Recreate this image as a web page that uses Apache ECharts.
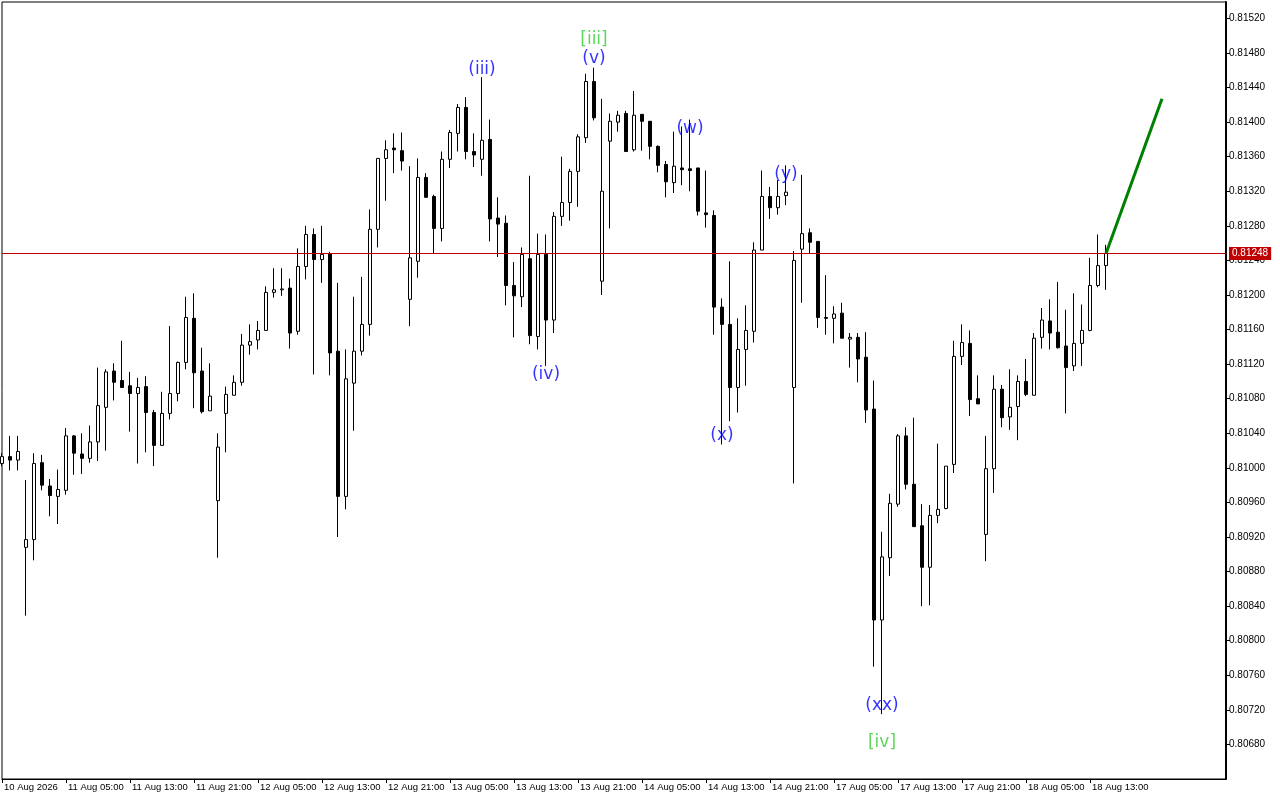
<!DOCTYPE html>
<html>
<head>
<meta charset="utf-8">
<title>H1 candles</title>
<script src="https://cdn.jsdelivr.net/npm/echarts@6/dist/echarts.min.js"></script>
<style>
  html, body { margin: 0; padding: 0; background: #fff; }
  #chart { width: 1280px; height: 800px; }
</style>
</head>
<body>
<div id="chart"></div>
<script>
// trading hours shown (weekend skipped)
const sessions = [
  ['10 Aug', 21, 23], ['11 Aug', 0, 23], ['12 Aug', 0, 23], ['13 Aug', 0, 23],
  ['14 Aug', 0, 23], ['17 Aug', 0, 23], ['18 Aug', 0, 15]
];
const tickLabels = [
  '10 Aug 2026', '11 Aug 05:00', '11 Aug 13:00', '11 Aug 21:00', '12 Aug 05:00', '12 Aug 13:00',
  '12 Aug 21:00', '13 Aug 05:00', '13 Aug 13:00', '13 Aug 21:00', '14 Aug 05:00', '14 Aug 13:00',
  '14 Aug 21:00', '17 Aug 05:00', '17 Aug 13:00', '17 Aug 21:00', '18 Aug 05:00', '18 Aug 13:00'
];

const opens = [
  0.81005,0.81013,0.81009,0.80908,0.80917,0.81006,0.80979,0.80967,0.80974,0.81037,
  0.81016,0.81011,0.81030,0.81070,0.81112,0.81101,0.81095,0.81086,0.81094,0.81064,
  0.81026,0.81063,0.81086,0.81122,0.81173,0.81112,0.81066,0.80962,0.81063,0.81084,
  0.81099,0.81142,0.81148,0.81159,0.81203,0.81206,0.81208,0.81158,0.81233,0.81270,
  0.81241,0.81248,0.81135,0.80967,0.81098,0.81135,0.81166,0.81276,0.81358,0.81370,
  0.81367,0.81195,0.81239,0.81336,0.81314,0.81277,0.81357,0.81387,0.81417,0.81366,
  0.81357,0.81380,0.81289,0.81283,0.81211,0.81198,0.81242,0.81152,0.81247,0.81171,
  0.81291,0.81307,0.81343,0.81382,0.81447,0.81216,0.81378,0.81400,0.81410,0.81368,
  0.81409,0.81401,0.81372,0.81351,0.81330,0.81347,0.81346,0.81347,0.81295,0.81292,
  0.81186,0.81166,0.81093,0.81137,0.81158,0.81252,0.81314,0.81301,0.81315,0.81093,
  0.81253,0.81272,0.81262,0.81174,0.81173,0.81179,0.81149,0.81151,0.81128,0.81068,
  0.80824,0.80896,0.80958,0.81037,0.80981,0.80933,0.80885,0.80945,0.80953,0.81004,
  0.81129,0.81144,0.81080,0.80923,0.80999,0.81091,0.81059,0.81071,0.81100,0.81084,
  0.81151,0.81170,0.81157,0.81141,0.81118,0.81144,0.81159,0.81211,0.81234
];
const closes = [
  0.81013,0.81009,0.81019,0.80917,0.81005,0.80980,0.80968,0.80975,0.81037,0.81017,
  0.81011,0.81030,0.81072,0.81111,0.81099,0.81093,0.81086,0.81093,0.81064,0.81026,
  0.81063,0.81086,0.81122,0.81174,0.81110,0.81065,0.81083,0.81024,0.81085,0.81099,
  0.81142,0.81146,0.81159,0.81203,0.81206,0.81207,0.81156,0.81233,0.81270,0.81241,
  0.81247,0.81133,0.80967,0.81103,0.81135,0.81166,0.81276,0.81358,0.81368,0.81368,
  0.81355,0.81243,0.81336,0.81313,0.81277,0.81357,0.81388,0.81417,0.81366,0.81362,
  0.81379,0.81288,0.81282,0.81211,0.81199,0.81247,0.81153,0.81247,0.81171,0.81291,
  0.81307,0.81343,0.81383,0.81447,0.81405,0.81320,0.81401,0.81408,0.81366,0.81408,
  0.81401,0.81372,0.81350,0.81331,0.81349,0.81345,0.81344,0.81297,0.81293,0.81186,
  0.81166,0.81093,0.81137,0.81159,0.81252,0.81314,0.81301,0.81314,0.81319,0.81240,
  0.81271,0.81261,0.81174,0.81173,0.81178,0.81150,0.81151,0.81126,0.81067,0.80824,
  0.80897,0.80959,0.81037,0.80981,0.80932,0.80885,0.80945,0.80952,0.81002,0.81129,
  0.81145,0.81079,0.81074,0.80999,0.81091,0.81058,0.81070,0.81100,0.81085,0.81150,
  0.81171,0.81156,0.81139,0.81116,0.81144,0.81159,0.81211,0.81234,0.81248
];
const lows = [
  0.81002,0.80997,0.80997,0.80829,0.80893,0.80974,0.80944,0.80935,0.80969,0.80992,
  0.80993,0.81006,0.81008,0.81020,0.81078,0.81093,0.81042,0.81005,0.81018,0.81002,
  0.81026,0.81056,0.81077,0.81114,0.81069,0.81063,0.81066,0.80896,0.81018,0.81084,
  0.81095,0.81131,0.81137,0.81159,0.81197,0.81199,0.81138,0.81154,0.81218,0.81108,
  0.81214,0.81107,0.80920,0.80952,0.81043,0.81130,0.81153,0.81255,0.81309,0.81341,
  0.81344,0.81164,0.81220,0.81313,0.81248,0.81262,0.81347,0.81366,0.81357,0.81348,
  0.81338,0.81262,0.81244,0.81188,0.81151,0.81186,0.81143,0.81137,0.81118,0.81156,
  0.81280,0.81286,0.81302,0.81376,0.81402,0.81200,0.81277,0.81389,0.81366,0.81366,
  0.81367,0.81357,0.81342,0.81313,0.81318,0.81327,0.81320,0.81292,0.81278,0.81154,
  0.81027,0.81054,0.81064,0.81095,0.81145,0.81252,0.81288,0.81293,0.81304,0.80982,
  0.81191,0.81248,0.81162,0.81154,0.81144,0.81150,0.81116,0.81099,0.81052,0.80770,
  0.80715,0.80875,0.80955,0.80975,0.80932,0.80840,0.80841,0.80936,0.80952,0.80994,
  0.81119,0.81060,0.81074,0.80892,0.80971,0.81047,0.81044,0.81032,0.81083,0.81084,
  0.81138,0.81137,0.81138,0.81063,0.81112,0.81118,0.81158,0.81209,0.81206
];
const highs = [
  0.81017,0.81037,0.81037,0.80986,0.81017,0.81015,0.80987,0.80998,0.81046,0.81038,
  0.81040,0.81049,0.81116,0.81114,0.81121,0.81147,0.81111,0.81104,0.81106,0.81067,
  0.81088,0.81164,0.81123,0.81198,0.81202,0.81139,0.81121,0.81040,0.81094,0.81107,
  0.81155,0.81166,0.81170,0.81210,0.81231,0.81231,0.81219,0.81254,0.81280,0.81277,
  0.81280,0.81250,0.81214,0.81137,0.81198,0.81221,0.81299,0.81358,0.81379,0.81387,
  0.81388,0.81349,0.81358,0.81341,0.81316,0.81366,0.81391,0.81421,0.81429,0.81387,
  0.81452,0.81403,0.81313,0.81292,0.81238,0.81255,0.81338,0.81271,0.81270,0.81296,
  0.81360,0.81346,0.81386,0.81456,0.81463,0.81427,0.81410,0.81413,0.81413,0.81436,
  0.81409,0.81401,0.81373,0.81355,0.81389,0.81395,0.81403,0.81347,0.81344,0.81298,
  0.81196,0.81239,0.81173,0.81188,0.81261,0.81344,0.81325,0.81333,0.81350,0.81251,
  0.81339,0.81277,0.81262,0.81223,0.81187,0.81191,0.81156,0.81156,0.81157,0.81101,
  0.80926,0.80970,0.81039,0.81047,0.81058,0.80958,0.80957,0.81028,0.81002,0.81147,
  0.81166,0.81159,0.81107,0.81037,0.81107,0.81096,0.81114,0.81107,0.81126,0.81156,
  0.81185,0.81195,0.81215,0.81183,0.81202,0.81189,0.81243,0.81270,0.81258
];

// wave marks: text, bar index, price
const waveText = ['(iii)', '(iv)', '[iii]', '(v)', '(w)', '(x)', '(y)', '(xx)', '[iv]'];
const waveBar = [60, 68, 74, 74, 86, 90, 98, 110, 110];
const wavePrice = [0.81461, 0.81108, 0.81496, 0.81473, 0.81392, 0.81037, 0.81339, 0.80725, 0.80682];

// projected move
const forecastBar = [138, 145];
const forecastPrice = [0.81248, 0.81427];

const totalSlots = 154;
const categories = [];
sessions.forEach(([day, h0, h1]) => {
  for (let h = h0; h <= h1; h++) categories.push(day + ' ' + String(h).padStart(2, '0') + ':00');
});
while (categories.length < totalSlots) categories.push('');

const candles = opens.map((o, i) => [o, closes[i], lows[i], highs[i]]);
const lastClose = closes[closes.length - 1];
const showTick = idx => idx % 8 === 0 && idx / 8 < tickLabels.length;

const chart = echarts.init(document.getElementById('chart'));
chart.setOption({
  animation: false,
  backgroundColor: '#fff',
  textStyle: { fontFamily: 'Liberation Sans' },
  grid: {
    left: 2, top: 2, width: 1224, height: 777,
    show: true, borderColor: '#000', borderWidth: 1, backgroundColor: '#fff',
    outerBoundsMode: 'none'
  },
  xAxis: [{
    type: 'category',
    data: categories,
    boundaryGap: false,
    axisLine: { onZero: false, lineStyle: { color: '#000', width: 1 } },
    axisTick: { interval: showTick, length: 4, lineStyle: { color: '#000' } },
    axisLabel: {
      interval: showTick,
      formatter: (v, idx) => tickLabels[idx / 8],
      align: 'left', margin: 3, padding: [0, 0, 0, 2],
      color: '#000', fontSize: 9.5, fontFamily: 'Liberation Sans'
    },
    splitLine: { show: false }
  }, {
    type: 'value', min: 0, max: totalSlots - 1, show: false
  }],
  yAxis: {
    type: 'value',
    position: 'right',
    min: 0.8064, max: 0.81539, interval: 0.0004,
    axisLine: { show: true, onZero: false, lineStyle: { color: '#000', width: 2 } },
    axisTick: { show: true, length: 4, lineStyle: { color: '#000' } },
    axisLabel: {
      showMinLabel: false, showMaxLabel: false,
      formatter: v => v.toFixed(5),
      margin: 3, color: '#000', fontSize: 10, fontFamily: 'Liberation Sans'
    },
    splitLine: { show: false }
  },
  series: [{
    type: 'candlestick',
    data: candles,
    barWidth: 4,
    itemStyle: {
      color: '#fff', color0: '#000',
      borderColor: '#000', borderColor0: '#000', borderWidth: 1
    }
  }, {
    type: 'line',
    xAxisIndex: 1,
    data: forecastBar.map((b, i) => [b, forecastPrice[i]]),
    symbol: 'none',
    lineStyle: { color: '#008000', width: 3 },
    z: 4,
    // current price line
    markLine: {
      silent: true,
      symbol: 'none',
      precision: 5,
      data: [{ yAxis: lastClose }],
      lineStyle: { color: '#c00000', width: 1, type: 'solid' },
      label: {
        position: 'end', distance: 3,
        formatter: () => lastClose.toFixed(5),
        color: '#fff', backgroundColor: '#c00000', padding: [2, 3, 1, 3],
        fontSize: 10, fontFamily: 'Liberation Sans'
      }
    }
  }, {
    type: 'scatter',
    xAxisIndex: 1,
    symbolSize: 1,
    itemStyle: { color: 'rgba(0,0,0,0)' },
    silent: true,
    z: 5,
    data: waveText.map((t, i) => ({
      name: t,
      value: [waveBar[i], wavePrice[i]],
      label: { color: t[0] === '[' ? '#32cd32' : '#0000ff' }
    })),
    label: {
      show: true, position: 'inside',
      formatter: p => p.name,
      fontFamily: 'DejaVu Sans', fontSize: 17
    }
  }]
});

window.addEventListener('resize', () => chart.resize());
</script>
</body>
</html>
